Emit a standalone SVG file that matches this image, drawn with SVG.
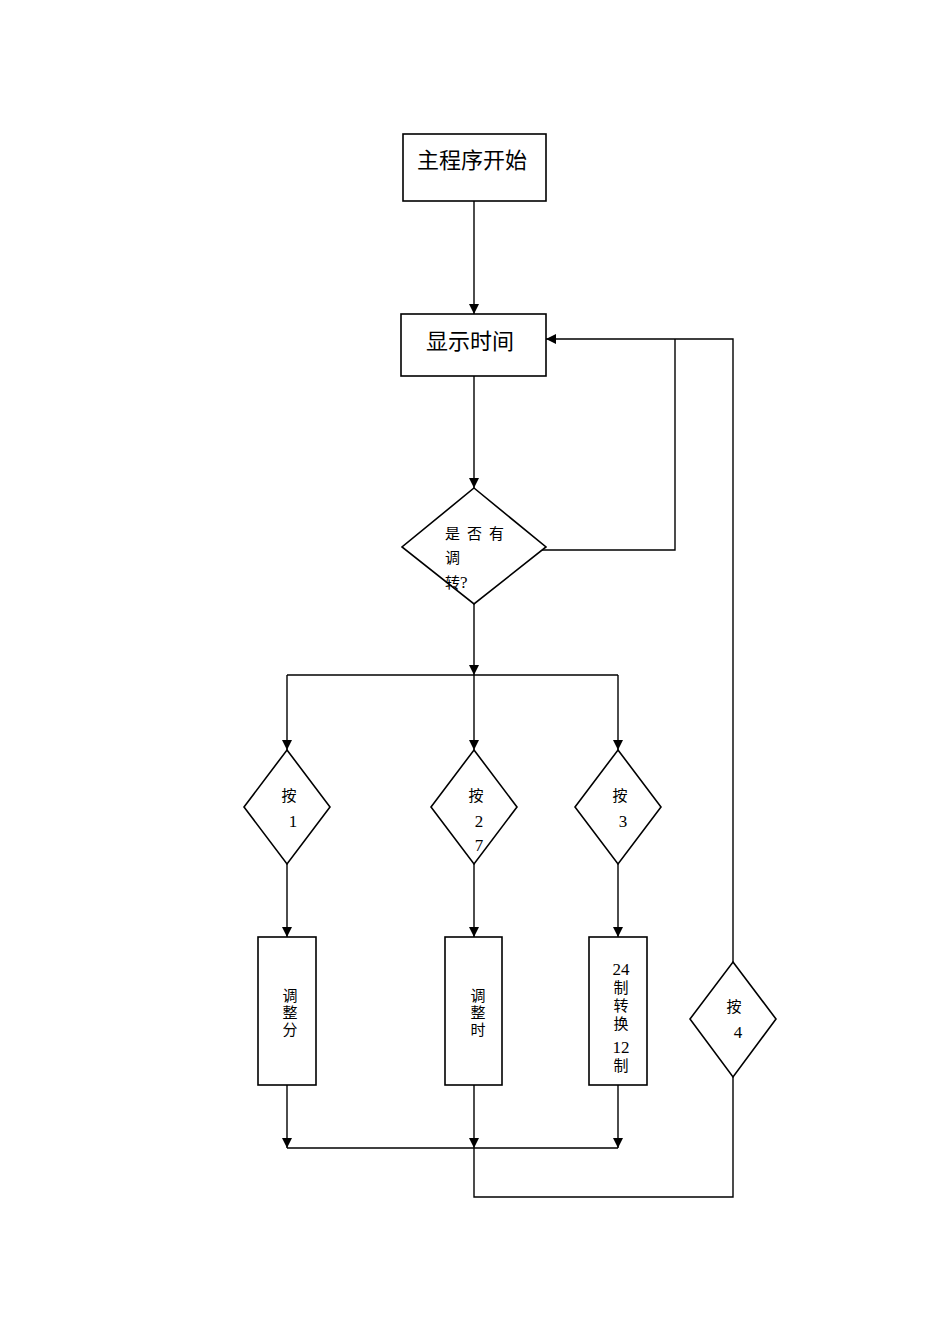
<svg xmlns="http://www.w3.org/2000/svg" width="950" height="1344" viewBox="0 0 950 1344">
<style>
.box{fill:#fff;stroke:#000;stroke-width:1.6}
.ln{fill:none;stroke:#000;stroke-width:1.4}
.t{font-family:"Liberation Serif","Noto Sans CJK SC",serif;fill:#000}
.big{font-size:22px}
.sm{font-size:15px}
.num{font-size:17px}
</style>
<defs>
<marker id="ah" viewBox="0 0 10 10" refX="10" refY="5" markerWidth="10" markerHeight="10" markerUnits="userSpaceOnUse" orient="auto">
<path d="M0,0 L10,5 L0,10 Z" fill="#000"/>
</marker>
</defs>
<rect width="950" height="1344" fill="#fff"/>
<g id="connectors">
<line class="ln" x1="474" y1="201" x2="474" y2="314" marker-end="url(#ah)"/>
<line class="ln" x1="474" y1="376" x2="474" y2="488" marker-end="url(#ah)"/>
<polyline class="ln" points="532,550 675,550 675,339"/>
<polyline class="ln" points="733,962 733,339 546,339" marker-end="url(#ah)"/>
<line class="ln" x1="474" y1="604" x2="474" y2="675" marker-end="url(#ah)"/>
<line class="ln" x1="287" y1="675" x2="618" y2="675"/>
<line class="ln" x1="287" y1="675" x2="287" y2="750" marker-end="url(#ah)"/>
<line class="ln" x1="474" y1="675" x2="474" y2="750" marker-end="url(#ah)"/>
<line class="ln" x1="618" y1="675" x2="618" y2="750" marker-end="url(#ah)"/>
<line class="ln" x1="287" y1="864" x2="287" y2="937" marker-end="url(#ah)"/>
<line class="ln" x1="474" y1="864" x2="474" y2="937" marker-end="url(#ah)"/>
<line class="ln" x1="618" y1="864" x2="618" y2="937" marker-end="url(#ah)"/>
<line class="ln" x1="287" y1="1085" x2="287" y2="1148" marker-end="url(#ah)"/>
<line class="ln" x1="474" y1="1085" x2="474" y2="1148" marker-end="url(#ah)"/>
<line class="ln" x1="618" y1="1085" x2="618" y2="1148" marker-end="url(#ah)"/>
<line class="ln" x1="287" y1="1148" x2="618" y2="1148"/>
<polyline class="ln" points="474,1148 474,1197 733,1197 733,1077"/>
</g>
<g id="start">
<rect class="box" x="403" y="134" width="143" height="67"/>
<text class="t big" x="472" y="168" text-anchor="middle">主程序开始</text>
</g>
<g id="display">
<rect class="box" x="401" y="314" width="145" height="62"/>
<text class="t big" x="470" y="349" text-anchor="middle">显示时间</text>
</g>
<g id="decision">
<polygon class="box" points="474,488 546,547 474,604 402,547"/>
<text class="t sm" x="445 460 467 482 489" y="539">是 否 有</text>
<text class="t sm" x="445" y="563">调</text>
<text class="t sm" x="445" y="588">转<tspan class="num">?</tspan></text>
</g>
<g id="key1">
<polygon class="box" points="287,750 330,807 287,864 244,807"/>
<text class="t sm" x="289" y="801" text-anchor="middle">按</text>
<text class="t num" x="293" y="827" text-anchor="middle">1</text>
</g>
<g id="key2">
<polygon class="box" points="474,750 517,807 474,864 431,807"/>
<text class="t sm" x="476" y="801" text-anchor="middle">按</text>
<text class="t num" x="479" y="827" text-anchor="middle">2</text>
<text class="t num" x="479" y="851" text-anchor="middle">7</text>
</g>
<g id="key3">
<polygon class="box" points="618,750 661,807 618,864 575,807"/>
<text class="t sm" x="620" y="801" text-anchor="middle">按</text>
<text class="t num" x="623" y="827" text-anchor="middle">3</text>
</g>
<g id="key4">
<polygon class="box" points="733,962 776,1019 733,1077 690,1019"/>
<text class="t sm" x="734" y="1012" text-anchor="middle">按</text>
<text class="t num" x="738" y="1038" text-anchor="middle">4</text>
</g>
<g id="adjmin">
<rect class="box" x="258" y="937" width="58" height="148"/>
<text class="t sm" x="290" text-anchor="middle"><tspan x="290" y="1001">调</tspan><tspan x="290" y="1018">整</tspan><tspan x="290" y="1035">分</tspan></text>
</g>
<g id="adjhour">
<rect class="box" x="445" y="937" width="57" height="148"/>
<text class="t sm" x="478" text-anchor="middle"><tspan x="478" y="1001">调</tspan><tspan x="478" y="1018">整</tspan><tspan x="478" y="1035">时</tspan></text>
</g>
<g id="convert">
<rect class="box" x="589" y="937" width="58" height="148"/>
<text class="t sm" x="621" text-anchor="middle"><tspan class="num" x="621" y="975">24</tspan><tspan x="621" y="993">制</tspan><tspan x="621" y="1011">转</tspan><tspan x="621" y="1029">换</tspan><tspan class="num" x="621" y="1053">12</tspan><tspan x="621" y="1071">制</tspan></text>
</g>
</svg>
